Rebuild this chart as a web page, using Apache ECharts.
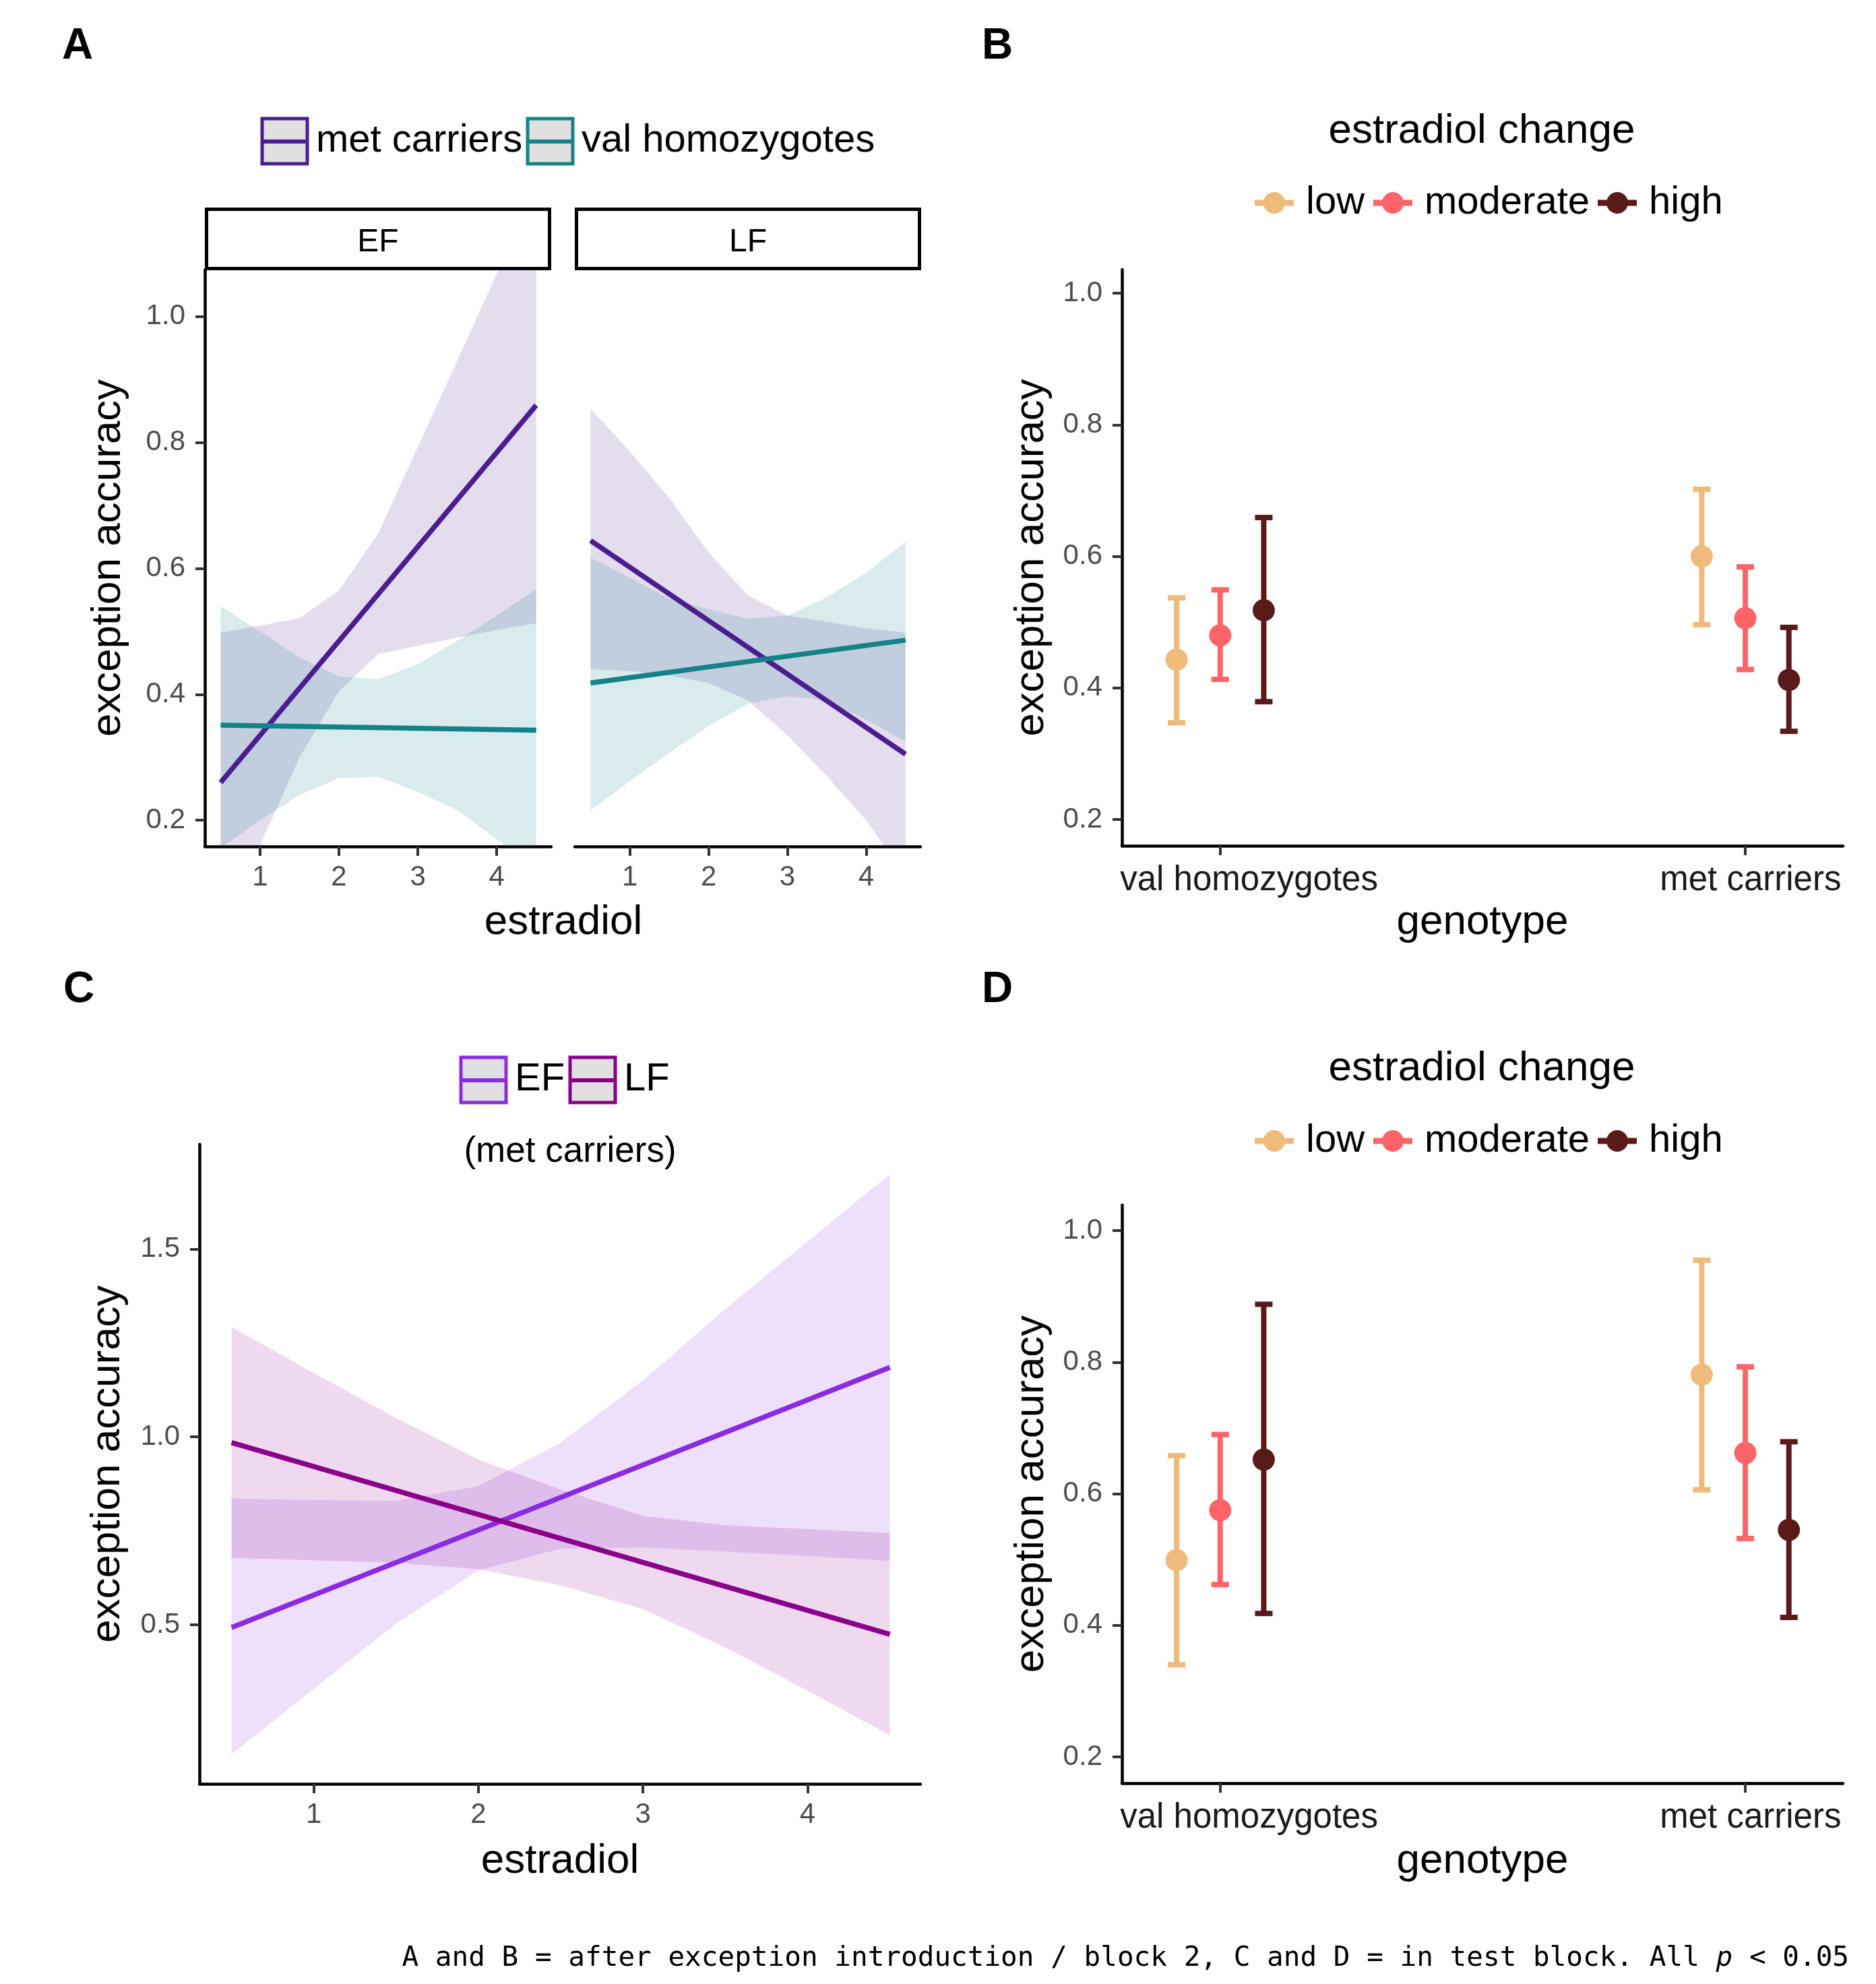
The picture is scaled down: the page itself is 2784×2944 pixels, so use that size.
<!DOCTYPE html>
<html lang="en">
<head>
<meta charset="UTF-8">
<title>exception accuracy by estradiol and genotype</title>
<script src="https://cdn.jsdelivr.net/npm/echarts@6/dist/echarts.min.js"></script>
<style>html,body{margin:0;padding:0;background:#fff}</style>
</head>
<body>
<div id="chart" style="width:2784px;height:2944px"></div>
<script>
    // x positions where the fitted bands were read
    var bandX = [0.5, 1, 1.5, 2, 2.5, 3, 3.5, 4, 4.5]
    var lineX = [0.5, 4.5]

    // panel A, facet EF
    var aEfMetLine = [0.260, 0.859]
    var aEfMetLower = [0.022, 0.161, 0.300, 0.405, 0.464, 0.477, 0.490, 0.502, 0.513]
    var aEfMetUpper = [0.498, 0.509, 0.521, 0.565, 0.656, 0.793, 0.930, 1.068, 1.205]
    var aEfValLine = [0.351, 0.343]
    var aEfValLower = [0.156, 0.200, 0.240, 0.267, 0.269, 0.245, 0.216, 0.170, 0.120]
    var aEfValUpper = [0.540, 0.500, 0.458, 0.428, 0.424, 0.448, 0.485, 0.525, 0.567]
    // panel A, facet LF
    var aLfMetLine = [0.644, 0.305]
    var aLfMetLower = [0.440, 0.437, 0.430, 0.418, 0.390, 0.335, 0.270, 0.200, 0.110]
    var aLfMetUpper = [0.854, 0.785, 0.712, 0.625, 0.557, 0.525, 0.515, 0.505, 0.498]
    var aLfValLine = [0.418, 0.486]
    var aLfValLower = [0.216, 0.262, 0.307, 0.350, 0.385, 0.397, 0.390, 0.360, 0.325]
    var aLfValUpper = [0.617, 0.585, 0.552, 0.535, 0.520, 0.525, 0.554, 0.593, 0.642]

    // panel C (met carriers), EF vs LF
    var cEfLine = [0.493, 1.185]
    var cEfLower = [0.156, 0.330, 0.504, 0.645, 0.703, 0.706, 0.695, 0.683, 0.670]
    var cEfUpper = [0.836, 0.832, 0.830, 0.869, 0.985, 1.150, 1.340, 1.520, 1.699]
    var cLfLine = [0.985, 0.475]
    var cLfLower = [0.678, 0.672, 0.665, 0.648, 0.605, 0.542, 0.440, 0.325, 0.206]
    var cLfUpper = [1.292, 1.170, 1.050, 0.940, 0.860, 0.790, 0.765, 0.755, 0.744]

    // panels B and D: mean with CI per genotype (val homozygotes, met carriers)
    var genotypes = ['val homozygotes', 'met carriers']
    var levels = ['low', 'moderate', 'high']
    var bMean = { low: [0.443, 0.600], moderate: [0.480, 0.506], high: [0.518, 0.412] }
    var bLo = { low: [0.347, 0.496], moderate: [0.413, 0.428], high: [0.379, 0.334] }
    var bHi = { low: [0.537, 0.702], moderate: [0.549, 0.584], high: [0.659, 0.492] }
    var dMean = { low: [0.499, 0.781], moderate: [0.575, 0.662], high: [0.652, 0.545] }
    var dLo = { low: [0.340, 0.606], moderate: [0.462, 0.532], high: [0.418, 0.412] }
    var dHi = { low: [0.658, 0.955], moderate: [0.690, 0.793], high: [0.888, 0.679] }

    var yTicksA = [0.2, 0.4, 0.6, 0.8, 1.0]
    var yTicksC = [0.5, 1.0, 1.5]
    var xTicksEst = [1, 2, 3, 4]

    // colours
    var metColor = '#4B1E8F'
    var valColor = '#138389'
    var efColor = '#8A2BE2'
    var lfColor = '#8B008B'
    var levelColors = { low: '#F0BA7A', moderate: '#FF6468', high: '#5B1A1A' }
    var dodge = { low: -0.083, moderate: 0, high: 0.083 }

    var FONT = 'Liberation Sans'

    function rows() {
        // zip arrays column-wise into [[a0,b0,..],[a1,b1,..]]
        var cols = Array.prototype.slice.call(arguments)
        return cols[0].map(function (v, i) {
            return cols.map(function (c) { return c[i] })
        })
    }

    function bandRender(params, api) {
        if (params.dataIndexInside !== 0) return
        var n = params.dataInsideLength
        var up = [], dn = []
        for (var i = 0; i < n; i++) {
            var x = api.value(0, i)
            up.push(api.coord([x, api.value(2, i)]))
            dn.unshift(api.coord([x, api.value(1, i)]))
        }
        return {
            type: 'polygon',
            shape: { points: up.concat(dn) },
            style: { fill: api.visual('color') }
        }
    }

    function band(grid, lower, upper, color) {
        return {
            type: 'custom', xAxisIndex: grid, yAxisIndex: grid, clip: true,
            renderItem: bandRender, encode: { x: 0, y: [1, 2] },
            itemStyle: { color: color }, silent: true,
            data: rows(bandX, lower, upper)
        }
    }

    function fitLine(grid, ys, color) {
        return {
            type: 'line', xAxisIndex: grid, yAxisIndex: grid, clip: true,
            symbol: 'none', lineStyle: { color: color, width: 7.5 },
            data: rows(lineX, ys), z: 5
        }
    }

    function errRender(params, api) {
        var x = api.value(0)
        var lo = api.coord([x, api.value(2)])
        var hi = api.coord([x, api.value(3)])
        var c = api.visual('color')
        var cap = 13
        var st = { stroke: c, lineWidth: 8 }
        return {
            type: 'group', children: [
                { type: 'line', shape: { x1: lo[0], y1: lo[1], x2: hi[0], y2: hi[1] }, style: st },
                { type: 'line', shape: { x1: lo[0] - cap, y1: lo[1], x2: lo[0] + cap, y2: lo[1] }, style: st },
                { type: 'line', shape: { x1: hi[0] - cap, y1: hi[1], x2: hi[0] + cap, y2: hi[1] }, style: st }
            ]
        }
    }

    function errSeries(grid, mean, lo, hi) {
        var out = []
        levels.forEach(function (lv) {
            var xs = genotypes.map(function (g, i) { return i + 1 + dodge[lv] })
            out.push({
                type: 'custom', xAxisIndex: grid, yAxisIndex: grid,
                renderItem: errRender, encode: { x: 0, y: [2, 3] },
                itemStyle: { color: levelColors[lv] },
                data: rows(xs, mean[lv], lo[lv], hi[lv])
            })
            out.push({
                type: 'scatter', xAxisIndex: grid, yAxisIndex: grid,
                symbolSize: 33, itemStyle: { color: levelColors[lv], opacity: 1 },
                data: rows(xs, mean[lv]), z: 6
            })
        })
        return out
    }

    var axisLineStyle = { show: true, onZero: false, lineStyle: { color: '#000', width: 4.5 } }

    function yAxisOf(grid, min, max, ticks, name, gap, show) {
        return {
            type: 'value', gridIndex: grid, min: min, max: max,
            axisLine: show ? axisLineStyle : { show: false },
            axisTick: { show: show, length: 14, customValues: ticks, lineStyle: { color: '#333', width: 4 } },
            axisLabel: {
                show: show, customValues: ticks, margin: 29, color: '#4d4d4d',
                fontSize: 42, fontFamily: FONT,
                formatter: function (v) { return v.toFixed(1) }
            },
            splitLine: { show: false },
            name: name, nameLocation: 'middle', nameRotate: 90, nameGap: gap,
            nameTextStyle: { fontSize: 62, color: '#000', fontFamily: FONT }
        }
    }

    function xAxisEst(grid, min, max, name, gap) {
        return {
            type: 'value', gridIndex: grid, min: min, max: max,
            axisLine: axisLineStyle,
            axisTick: { length: 14, customValues: xTicksEst, lineStyle: { color: '#333', width: 4 } },
            axisLabel: {
                customValues: xTicksEst, margin: 25, color: '#4d4d4d',
                fontSize: 42, fontFamily: FONT,
                formatter: function (v) { return String(v) }
            },
            splitLine: { show: false },
            name: name, nameLocation: 'middle', nameGap: gap,
            nameTextStyle: { fontSize: 62, color: '#000', fontFamily: FONT }
        }
    }

    function xAxisGeno(grid, gap) {
        return {
            type: 'value', gridIndex: grid, min: 0.813, max: 2.186,
            axisLine: axisLineStyle,
            axisTick: { length: 14, customValues: [1, 2], lineStyle: { color: '#333', width: 4 } },
            axisLabel: {
                // labels sit a little right of their ticks in the original
                customValues: [1.055, 2.01], margin: 26, color: '#1a1a1a',
                fontSize: 51, fontFamily: FONT,
                formatter: function (v) { return v < 1.5 ? genotypes[0] : genotypes[1] }
            },
            splitLine: { show: false },
            name: 'genotype', nameLocation: 'middle', nameGap: gap,
            nameTextStyle: { fontSize: 62, color: '#000', fontFamily: FONT }
        }
    }

    // legend pieces (drawn as plain graphics)
    function boxKey(x, y, color, label) {
        return [
            { type: 'rect', shape: { x: x, y: y, width: 67, height: 67 },
              style: { fill: '#e0e0e0', stroke: color, lineWidth: 5 } },
            { type: 'line', shape: { x1: x + 2, y1: y + 34, x2: x + 65, y2: y + 34 },
              style: { stroke: color, lineWidth: 6 } },
            { type: 'text', x: x + 80, y: y + 33,
              style: { text: label, fill: '#000', fontSize: 58, fontFamily: FONT,
                       align: 'left', verticalAlign: 'middle', textAlign: 'left', textVerticalAlign: 'middle' } }
        ]
    }

    function dotKey(cx, cy, color, label) {
        return [
            { type: 'line', shape: { x1: cx - 29, y1: cy, x2: cx + 29, y2: cy },
              style: { stroke: color, lineWidth: 9 } },
            { type: 'circle', shape: { cx: cx, cy: cy, r: 16 }, style: { fill: color } },
            { type: 'text', x: cx + 47, y: cy,
              style: { text: label, fill: '#000', fontSize: 58, fontFamily: FONT,
                       align: 'left', verticalAlign: 'middle', textAlign: 'left', textVerticalAlign: 'middle' } }
        ]
    }

    function txt(x, y, s, size, opts) {
        opts = opts || {}
        return {
            type: 'text', x: x, y: y,
            style: {
                text: s, fill: '#000', fontSize: size, fontFamily: FONT,
                fontWeight: opts.bold ? 'bold' : 'normal',
                align: opts.align || 'center', textAlign: opts.align || 'center',
                verticalAlign: 'middle', textVerticalAlign: 'middle'
            }
        }
    }

    function strip(x, label) {
        return [
            { type: 'rect', shape: { x: x + 2.5, y: 310.5, width: 509, height: 88 },
              style: { fill: '#fff', stroke: '#000', lineWidth: 5 } },
            txt(x + 257, 360, label, 48)
        ]
    }

    var graphics = []
        .concat(boxKey(389, 176, metColor, 'met carriers'))
        .concat(boxKey(783, 176, valColor, 'val homozygotes'))
        .concat(strip(304, 'EF'))
        .concat(strip(853, 'LF'))
        .concat([txt(836, 1369, 'estradiol', 62)])
        .concat([txt(2199, 195, 'estradiol change', 62)])
        .concat(dotKey(1891, 301, levelColors.low, 'low'))
        .concat(dotKey(2067, 301, levelColors.moderate, 'moderate'))
        .concat(dotKey(2400, 301, levelColors.high, 'high'))
        .concat(boxKey(684, 1569, efColor, 'EF'))
        .concat(boxKey(846, 1569, lfColor, 'LF'))
        .concat([txt(846, 1709, '(met carriers)', 53)])
        .concat([txt(2199, 1586, 'estradiol change', 62)])
        .concat(dotKey(1891, 1693, levelColors.low, 'low'))
        .concat(dotKey(2067, 1693, levelColors.moderate, 'moderate'))
        .concat(dotKey(2400, 1693, levelColors.high, 'high'))
        .concat([
            txt(92, 69, 'A', 64, { bold: true, align: 'left' }),
            txt(1457, 69, 'B', 64, { bold: true, align: 'left' }),
            txt(94, 1469, 'C', 64, { bold: true, align: 'left' }),
            txt(1457, 1469, 'D', 64, { bold: true, align: 'left' })
        ])

    var series = [
        band(0, aEfMetLower, aEfMetUpper, 'rgba(75,30,143,0.15)'),
        band(0, aEfValLower, aEfValUpper, 'rgba(19,131,137,0.16)'),
        fitLine(0, aEfMetLine, metColor),
        fitLine(0, aEfValLine, valColor),
        band(1, aLfMetLower, aLfMetUpper, 'rgba(75,30,143,0.15)'),
        band(1, aLfValLower, aLfValUpper, 'rgba(19,131,137,0.16)'),
        fitLine(1, aLfMetLine, metColor),
        fitLine(1, aLfValLine, valColor),
        band(3, cEfLower, cEfUpper, 'rgba(138,43,226,0.15)'),
        band(3, cLfLower, cLfUpper, 'rgba(139,0,139,0.15)'),
        fitLine(3, cEfLine, efColor),
        fitLine(3, cLfLine, lfColor)
    ].concat(errSeries(2, bMean, bLo, bHi))
     .concat(errSeries(4, dMean, dLo, dHi))

    var option = {
        animation: false,
        backgroundColor: '#fff',
        title: {
            right: 40, top: 2881, padding: 0,
            text: '{n|A and B = after exception introduction / block 2, C and D = in test block. All }{i|p}{n| < 0.05}',
            textStyle: {
                fontWeight: 'normal',
                rich: {
                    n: { fontFamily: 'DejaVu Sans Mono', fontSize: 41, fontWeight: 'normal', color: '#000', lineHeight: 50 },
                    i: { fontFamily: 'DejaVu Sans Mono', fontSize: 41, fontWeight: 'normal', color: '#000', fontStyle: 'italic', lineHeight: 50 }
                }
            }
        },
        grid: [
            { left: 304, top: 400, width: 514, height: 856 },
            { left: 853, top: 400, width: 513, height: 856 },
            { left: 1665, top: 400, width: 1070, height: 855 },
            { left: 296, top: 1698, width: 1070, height: 949 },
            { left: 1665, top: 1788, width: 1070, height: 858 }
        ],
        xAxis: [
            xAxisEst(0, 0.3, 4.69, '', 0),
            xAxisEst(1, 0.3, 4.69, '', 0),
            xAxisGeno(2, 83),
            xAxisEst(3, 0.305, 4.686, 'estradiol', 84),
            xAxisGeno(4, 85)
        ],
        yAxis: [
            yAxisOf(0, 0.1585, 1.0743, yTicksA, 'exception accuracy', 112, true),
            yAxisOf(1, 0.1585, 1.0743, yTicksA, '', 0, false),
            yAxisOf(2, 0.160, 1.036, yTicksA, 'exception accuracy', 103, true),
            yAxisOf(3, 0.0771, 1.7785, yTicksC, 'exception accuracy', 105, true),
            yAxisOf(4, 0.160, 1.039, yTicksA, 'exception accuracy', 103, true)
        ],
        graphic: { elements: graphics },
        series: series
    }

    var mCharts = echarts.init(document.getElementById('chart'))
    mCharts.setOption(option)
</script>
</body>
</html>
